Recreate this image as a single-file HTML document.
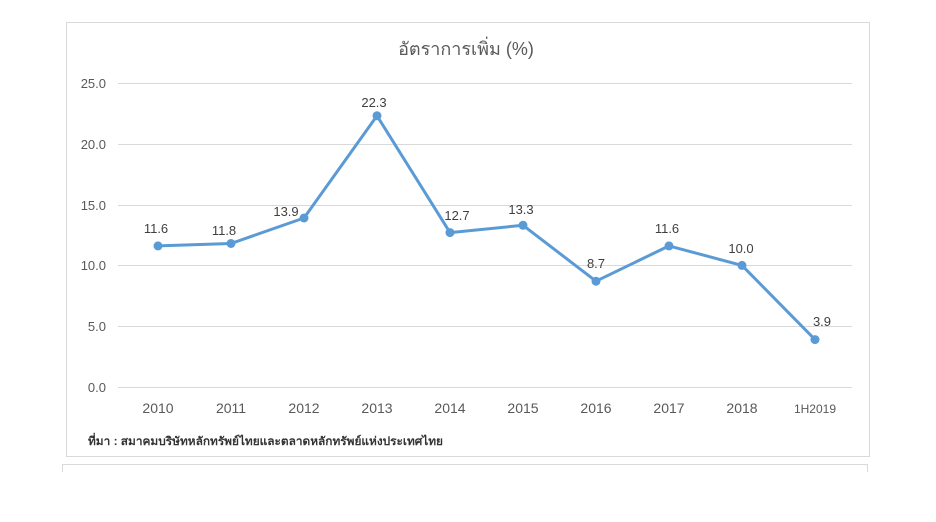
<!DOCTYPE html>
<html><head><meta charset="utf-8"><style>
html,body{margin:0;padding:0;background:#fff;}
svg{display:block;font-family:"Liberation Sans","DejaVu Sans",sans-serif;}
</style></head><body>
<svg width="936" height="522" viewBox="0 0 936 522" xmlns="http://www.w3.org/2000/svg">
<rect x="66.5" y="22.5" width="803" height="434" fill="#fff" stroke="#d9d9d9"/>
<path d="M62.5 472 V464.5 H867.5 V472" fill="none" stroke="#d9d9d9"/>
<text x="466" y="55" font-size="18" fill="#595959" text-anchor="middle">อัตราการเพิ่ม (%)</text>
<g stroke="#d9d9d9" stroke-width="1">
<line x1="118" y1="83.5" x2="852" y2="83.5"/>
<line x1="118" y1="144.5" x2="852" y2="144.5"/>
<line x1="118" y1="205.5" x2="852" y2="205.5"/>
<line x1="118" y1="265.5" x2="852" y2="265.5"/>
<line x1="118" y1="326.5" x2="852" y2="326.5"/>
<line x1="118" y1="387.5" x2="852" y2="387.5"/>
</g>
<g font-size="13" fill="#595959" text-anchor="end">
<text x="106" y="88">25.0</text><text x="106" y="149">20.0</text><text x="106" y="210">15.0</text>
<text x="106" y="270">10.0</text><text x="106" y="331">5.0</text><text x="106" y="392">0.0</text>
</g>
<g font-size="14" fill="#595959" text-anchor="middle">
<text x="158" y="413">2010</text><text x="231" y="413">2011</text><text x="304" y="413">2012</text>
<text x="377" y="413">2013</text><text x="450" y="413">2014</text><text x="523" y="413">2015</text>
<text x="596" y="413">2016</text><text x="669" y="413">2017</text><text x="742" y="413">2018</text>
<text x="815" y="413" font-size="12">1H2019</text>
</g>
<polyline fill="none" stroke="#5b9bd5" stroke-width="3" stroke-linejoin="round" points="158,245.9 231,243.5 304,218 377,115.8 450,232.6 523,225.3 596,281.2 669,245.9 742,265.4 815,339.6"/>
<g fill="#5b9bd5">
<circle cx="158" cy="245.9" r="4.5"/><circle cx="231" cy="243.5" r="4.5"/><circle cx="304" cy="218" r="4.5"/>
<circle cx="377" cy="115.8" r="4.5"/><circle cx="450" cy="232.6" r="4.5"/><circle cx="523" cy="225.3" r="4.5"/>
<circle cx="596" cy="281.2" r="4.5"/><circle cx="669" cy="245.9" r="4.5"/><circle cx="742" cy="265.4" r="4.5"/>
<circle cx="815" cy="339.6" r="4.5"/>
</g>
<g font-size="13" fill="#404040" text-anchor="middle">
<text x="156" y="233">11.6</text><text x="224" y="235">11.8</text><text x="286" y="216">13.9</text>
<text x="374" y="107">22.3</text><text x="457" y="220">12.7</text><text x="521" y="214">13.3</text>
<text x="596" y="268">8.7</text><text x="667" y="233">11.6</text><text x="741" y="253">10.0</text>
<text x="822" y="326">3.9</text>
</g>
<text x="88" y="445" font-size="11.5" font-weight="bold" fill="#333" textLength="355" lengthAdjust="spacingAndGlyphs">ที่มา : สมาคมบริษัทหลักทรัพย์ไทยและตลาดหลักทรัพย์แห่งประเทศไทย</text>
</svg>
</body></html>
